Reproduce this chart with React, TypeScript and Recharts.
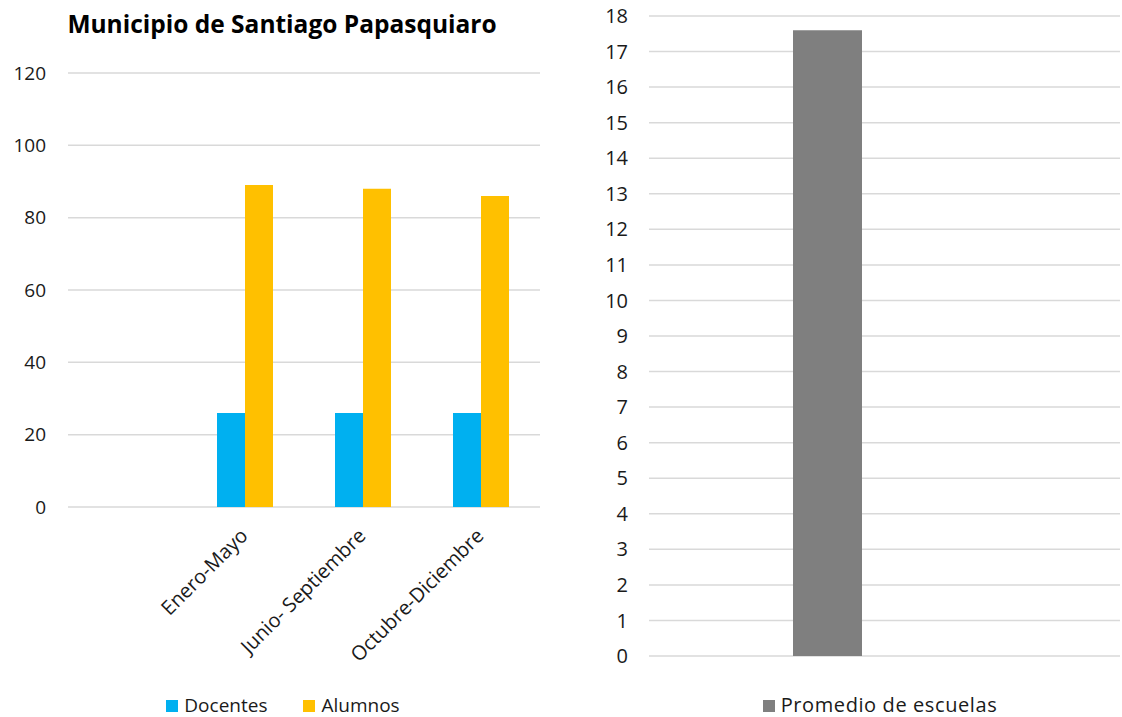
import React from "react";
import { BarChart, Bar, XAxis, YAxis, CartesianGrid, Legend } from "recharts";

const periods = ["", "Enero-Mayo", "Junio- Septiembre", "Octubre-Diciembre"];
const docentes: (number | null)[] = [null, 26, 26, 26];
const alumnos: (number | null)[] = [null, 89, 88, 86];
const leftTicks = [0, 20, 40, 60, 80, 100, 120];

const promedioCategories = [""];
const promedioEscuelas = [17.6];
const rightTicks = [0, 1, 2, 3, 4, 5, 6, 7, 8, 9, 10, 11, 12, 13, 14, 15, 16, 17, 18];

const leftData = periods.map((p, i) => ({ name: p, Docentes: docentes[i], Alumnos: alumnos[i] }));
const rightData = promedioCategories.map((c, i) => ({ name: c, promedio: promedioEscuelas[i] }));

const FONT = "'Open Sans', 'Noto Sans', sans-serif";
const TEXT = "#1a1a1a";
const GRID = "#D9D9D9";

const XTick = (props: any) => {
  const { x, y, payload } = props;
  return (
    <g transform={`translate(${x + 4},${y + 30})`}>
      <text transform="rotate(-45)" textAnchor="end" fontSize={20} fill={TEXT} fontFamily={FONT}>
        {payload.value}
      </text>
    </g>
  );
};

const makeLegend = (
  items: { label: string; color: string }[],
  gap: number,
  fontSize: number,
  letterSpacing: number
) => () => (
  <div
    style={{
      height: 24,
      display: "flex",
      justifyContent: "center",
      alignItems: "center",
      fontFamily: FONT,
      fontSize,
      color: TEXT,
      lineHeight: "20px",
      gap,
    }}
  >
    {items.map((it) => (
      <div key={it.label} style={{ display: "flex", alignItems: "center" }}>
        <span style={{ display: "inline-block", width: 12, height: 12, background: it.color, marginRight: 6, marginTop: 1 }} />
        <span style={{ letterSpacing }}>{it.label}</span>
      </div>
    ))}
  </div>
);

const leftLegend = makeLegend(
  [
    { label: "Docentes", color: "#00B0F0" },
    { label: "Alumnos", color: "#FFC000" },
  ],
  36,
  19,
  0
);
const rightLegend = makeLegend([{ label: "Promedio de escuelas", color: "#7F7F7F" }], 0, 20, 0.6);

export default function App() {
  return (
    <div
      style={{
        position: "absolute",
        left: 0,
        top: 0,
        width: 1122,
        height: 717,
        background: "#fff",
        fontFamily: FONT,
        overflow: "hidden",
      }}
    >
      <div
        style={{
          position: "absolute",
          left: 0,
          top: 7,
          width: 564,
          textAlign: "center",
          fontSize: 24.5,
          fontWeight: 700,
          lineHeight: "34px",
          color: "#000",
          fontFamily: FONT,
        }}
      >
        Municipio de Santiago Papasquiaro
      </div>
      <div style={{ position: "absolute", left: 0, top: 0 }}>
        <BarChart width={566} height={717} data={leftData} margin={{ top: 73, right: 26, left: 8, bottom: 0 }} barGap={0}>
          <CartesianGrid vertical={false} stroke={GRID} strokeWidth={1.5} />
          <XAxis dataKey="name" axisLine={false} tickLine={false} tickSize={0} tickMargin={0} height={186} interval={0} tick={<XTick />} />
          <YAxis
            domain={[0, 120]}
            ticks={leftTicks}
            axisLine={false}
            tickLine={false}
            tickSize={0}
            tickMargin={22}
            width={60}
            interval={0}
            tick={{ fontSize: 19, fill: TEXT, fontFamily: FONT }}
          />
          <Legend verticalAlign="bottom" content={leftLegend} wrapperStyle={{ left: 0, width: 566, bottom: 0 }} />
          <Bar dataKey="Docentes" fill="#00B0F0" barSize={28} isAnimationActive={false} />
          <Bar dataKey="Alumnos" fill="#FFC000" barSize={28} isAnimationActive={false} />
        </BarChart>
      </div>
      <div style={{ position: "absolute", left: 560, top: 0 }}>
        <BarChart width={562} height={717} data={rightData} margin={{ top: 16, right: 2, left: 0, bottom: 0 }}>
          <CartesianGrid vertical={false} stroke={GRID} strokeWidth={1.5} />
          <XAxis dataKey="name" axisLine={false} tickLine={false} tick={false} height={37} padding={{ left: 0, right: 114 }} />
          <YAxis
            domain={[0, 18]}
            ticks={rightTicks}
            axisLine={false}
            tickLine={false}
            tickSize={0}
            tickMargin={21}
            width={89}
            interval={0}
            tick={{ fontSize: 20, fill: TEXT, fontFamily: FONT }}
          />
          <Legend verticalAlign="bottom" content={rightLegend} wrapperStyle={{ left: 0, width: 640, bottom: 0 }} />
          <Bar dataKey="promedio" name="Promedio de escuelas" fill="#7F7F7F" barSize={69} isAnimationActive={false} />
        </BarChart>
      </div>
    </div>
  );
}
